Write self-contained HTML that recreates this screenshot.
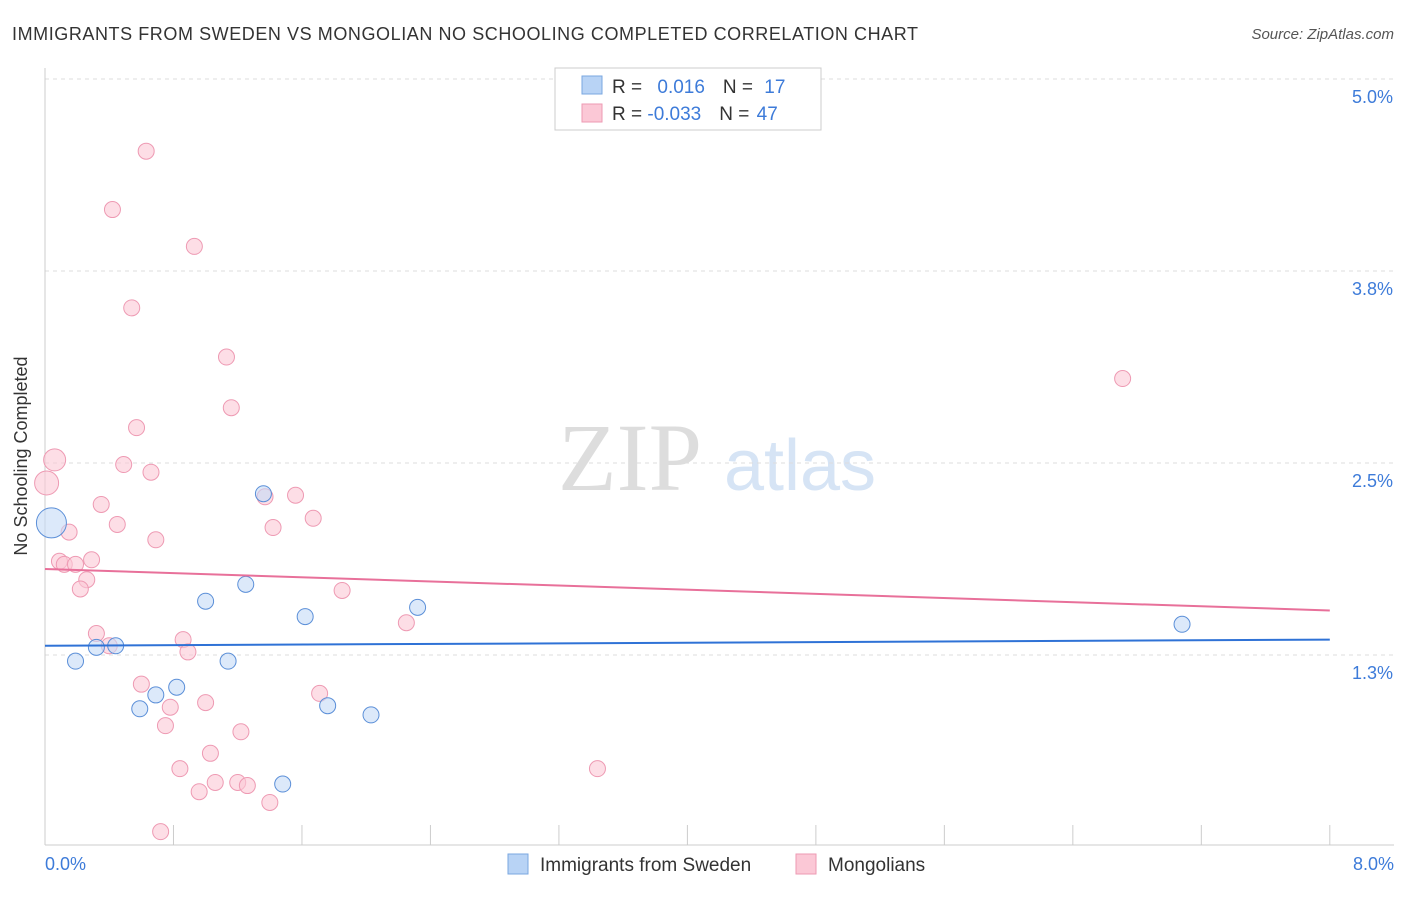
<!DOCTYPE html>
<html><head><meta charset="utf-8"><style>
body{margin:0;background:#fff;font-family:"Liberation Sans",sans-serif;}
</style></head><body>
<svg width="1406" height="892" xmlns="http://www.w3.org/2000/svg">
<text x="12" y="40" font-size="18" fill="#333" textLength="906">IMMIGRANTS FROM SWEDEN VS MONGOLIAN NO SCHOOLING COMPLETED CORRELATION CHART</text>
<text x="1394" y="39" font-size="15" fill="#555" font-style="italic" text-anchor="end">Source: ZipAtlas.com</text>
<text x="630" y="490" font-size="96" fill="#ddd" font-family="Liberation Serif" text-anchor="middle">ZIP</text>
<text x="800" y="490" font-size="72" fill="#d6e4f5" text-anchor="middle">atlas</text>
<g id="grid"></g>
<line x1="45" y1="68" x2="45" y2="845" stroke="#ccc"/>
<line x1="45" y1="845" x2="1394" y2="845" stroke="#ccc"/>
<text x="27" y="456" font-size="18" fill="#333" text-anchor="middle" transform="rotate(-90 27 456)">No Schooling Completed</text>
<text x="45" y="870" font-size="18" fill="#3d7bd9">0.0%</text>
<text x="1394" y="870" font-size="18" fill="#3d7bd9" text-anchor="end">8.0%</text>
<g id="marks"></g>
<g>
<rect x="555" y="68" width="266" height="62" fill="#fff" stroke="#ccc"/>
<rect x="582" y="76" width="20" height="18" fill="#b8d3f5" stroke="#7aa7e0"/>
<rect x="582" y="104" width="20" height="18" fill="#fbc8d6" stroke="#ee9ab3"/>
<text x="612" y="93" font-size="19" fill="#333">R = <tspan fill="#3d7bd9" dx="10">0.016</tspan><tspan dx="18" fill="#333">N = </tspan><tspan fill="#3d7bd9" dx="6">17</tspan></text>
<text x="612" y="120" font-size="19" fill="#333">R = <tspan fill="#3d7bd9">-0.033</tspan><tspan dx="18" fill="#333">N = </tspan><tspan fill="#3d7bd9" dx="2">47</tspan></text>
</g>
<g>
<rect x="508" y="854" width="20" height="20" fill="#b8d3f5" stroke="#7aa7e0"/>
<text x="540" y="871" font-size="19" fill="#333">Immigrants from Sweden</text>
<rect x="796" y="854" width="20" height="20" fill="#fbc8d6" stroke="#ee9ab3"/>
<text x="828" y="871" font-size="19" fill="#333">Mongolians</text>
</g>
</svg>
<script>
const yTicks=[5.0,3.75,2.5,1.25];
const yTickLabels=["5.0%","3.8%","2.5%","1.3%"];
const xTicks=[0,0.8,1.6,2.4,3.2,4.0,4.8,5.6,6.4,7.2,8.0];
const swedenX=[0.04,0.19,0.32,0.44,0.59,0.69,0.82,1.00,1.14,1.25,1.36,1.62,1.76,2.03,2.32,1.48,7.08];
const swedenY=[2.11,1.21,1.30,1.31,0.90,0.99,1.04,1.60,1.21,1.71,2.30,1.50,0.92,0.86,1.56,0.41,1.45];
const swedenR=[15,8,8,8,8,8,8,8,8,8,8,8,8,8,8,8,8];
const mongolX=[0.63,0.42,0.93,0.54,1.13,1.16,0.57,0.06,0.01,0.49,0.66,0.35,1.37,1.56,0.45,1.42,1.67,0.15,0.69,0.09,0.29,0.12,0.19,0.26,0.22,1.85,2.25,0.32,0.86,0.40,0.89,0.60,1.71,1.00,0.78,0.75,1.22,1.03,0.84,1.06,1.20,1.26,0.96,1.40,0.72,3.44,6.71];
const mongolY=[4.53,4.15,3.91,3.51,3.19,2.86,2.73,2.52,2.37,2.49,2.44,2.23,2.28,2.29,2.10,2.08,2.14,2.05,2.00,1.86,1.87,1.84,1.84,1.74,1.68,1.67,1.46,1.39,1.35,1.31,1.27,1.06,1.00,0.94,0.91,0.79,0.75,0.61,0.51,0.42,0.42,0.40,0.36,0.29,0.10,0.51,3.05];
const mongolR=[8,8,8,8,8,8,8,11,12,8,8,8,8,8,8,8,8,8,8,8,8,8,8,8,8,8,8,8,8,8,8,8,8,8,8,8,8,8,8,8,8,8,8,8,8,8,8];
const swedenTrend=[1.31,1.35];
const mongolTrend=[1.81,1.54];
const xs=v=>45+v*160.6;
const ys=v=>79+(5-v)*153.6;
const NS="http://www.w3.org/2000/svg";
const grid=document.getElementById('grid'),marks=document.getElementById('marks');
function mk(tag,attrs,parent){const e=document.createElementNS(NS,tag);for(const k in attrs)e.setAttribute(k,attrs[k]);parent.appendChild(e);return e;}
yTicks.forEach((t,i)=>{
 const l=mk('line',{x1:45,x2:1394,y1:ys(t),y2:ys(t),stroke:'#ddd','stroke-dasharray':'4,4'},grid);
 
 
 const tx=mk('text',{x:1393,y:ys(t)+24,'font-size':18,fill:'#3d7bd9','text-anchor':'end'},grid);
 tx.textContent=yTickLabels[i];
 
 
});
xTicks.forEach(t=>{
 const l=mk('line',{x1:xs(t),x2:xs(t),y1:825,y2:845,stroke:'#ccc'},grid);
 
 
});
function series(X,Y,R,fill,stroke,name){
 X.forEach((x,i)=>{
  const c=mk('circle',{cx:xs(x),cy:ys(Y[i]),r:R[i],fill:fill,'fill-opacity':0.6,stroke:stroke,'stroke-width':1},marks);
  
  
 });
}
series(mongolX,mongolY,mongolR,'#fbc8d6','#ee9ab3','mongolian-point');
series(swedenX,swedenY,swedenR,'#c4daf6','#5b8fd8','sweden-point');
const t1=mk('line',{x1:xs(0),x2:xs(8),y1:ys(swedenTrend[0]),y2:ys(swedenTrend[1]),stroke:'#2f72d6','stroke-width':2},marks);


const t2=mk('line',{x1:xs(0),x2:xs(8),y1:ys(mongolTrend[0]),y2:ys(mongolTrend[1]),stroke:'#e8709a','stroke-width':2},marks);


</script>
</body></html>
